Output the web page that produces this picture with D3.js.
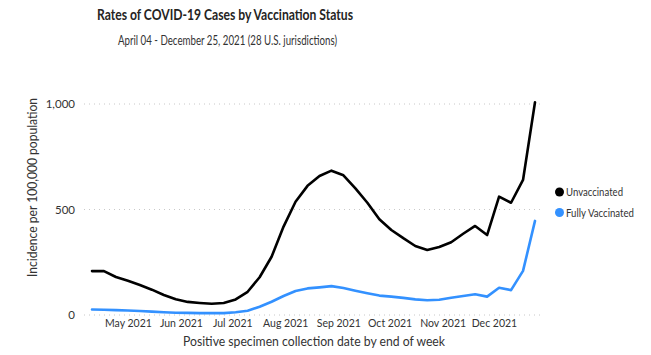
<!DOCTYPE html>
<html><head><meta charset="utf-8">
<script src="https://cdn.jsdelivr.net/npm/d3@7"></script>
<style>
body{margin:0;background:#fff;}
text{font-family:Lato,"Open Sans",sans-serif;}
</style></head>
<body><svg id="c" width="651" height="355"></svg>
<script>
const weekStart = "2021-04-10";
const unvaccinated = [208,208,180,162,142,120,95,75,62,57,53,57,74,110,179,276,419,537,612,659,684,662,600,532,454,403,364,327,308,322,345,385,422,379,561,532,640,1008];
const fullyVaccinated = [26,25,23,21,19,16,13,11,10,9,9,9,13,20,39,63,90,114,126,131,137,128,115,103,92,87,81,74,70,72,82,90,98,87,129,118,209,446];
const yTicks = [0,500,1000];
const xTickMonths = ["2021-05-01","2021-06-01","2021-07-01","2021-08-01","2021-09-01","2021-10-01","2021-11-01","2021-12-01"];
const seriesNames = ["Unvaccinated","Fully Vaccinated"];
const seriesColors = ["#000000","#3391ff"];

const parse = d3.utcParse("%Y-%m-%d");
const start = parse(weekStart);
const dates = unvaccinated.map((_, i) => d3.utcDay.offset(start, 7*i));
const svg = d3.select("#c");

const x = d3.scaleUtc().domain([dates[0], dates[dates.length-1]]).range([92, 535]);
const y = d3.scaleLinear().domain([0, 1000]).range([315, 104]);

function fit(sel, w){ sel.attr("textLength", w).attr("lengthAdjust", "spacingAndGlyphs"); return sel; }

// gridlines
svg.append("g").selectAll("line").data(yTicks).join("line")
  .attr("x1", 84).attr("x2", 541)
  .attr("y1", d => y(d)).attr("y2", d => y(d))
  .attr("stroke", "#c8c8c8").attr("stroke-width", 1)
  .attr("stroke-dasharray", "1,4");

// y axis
const yAxis = d3.axisLeft(y).tickValues(yTicks).tickFormat(d3.format(",")).tickSize(0).tickPadding(0);
const yg = svg.append("g").attr("transform", "translate(75,0)").call(yAxis);
yg.select(".domain").remove();
yg.selectAll("text").attr("font-size", 11.5).attr("fill", "#333").attr("font-family", "Lato,sans-serif");

// x axis
const xAxis = d3.axisBottom(x).tickValues(xTickMonths.map(parse)).tickFormat(d3.utcFormat("%b %Y")).tickSize(0).tickPadding(0);
const xg = svg.append("g").attr("transform", "translate(0,320)").call(xAxis);
xg.select(".domain").remove();
xg.selectAll("text").attr("font-size", 10.5).attr("fill", "#333").attr("font-family", "Lato,sans-serif");

// lines
const line = d3.line().x((d, i) => x(dates[i])).y(d => y(d));
[unvaccinated, fullyVaccinated].forEach((s, k) => {
  svg.append("path").datum(s).attr("d", line)
    .attr("fill", "none").attr("stroke", seriesColors[k])
    .attr("stroke-width", 2.6).attr("stroke-linejoin", "round").attr("stroke-linecap", "round");
});

// titles
fit(svg.append("text").attr("x", 97).attr("y", 20)
  .attr("font-size", 14.5).attr("font-weight", "bold").attr("fill", "#252423")
  .text("Rates of COVID-19 Cases by Vaccination Status"), 256);
fit(svg.append("text").attr("x", 118).attr("y", 45)
  .attr("font-size", 13).attr("fill", "#333")
  .text("April 04 - December 25, 2021 (28 U.S. jurisdictions)"), 219);
fit(svg.append("text").attr("transform", "translate(36.5,277) rotate(-90)")
  .attr("font-size", 12.5).attr("fill", "#333")
  .text("Incidence per 100,000 population"), 179);
fit(svg.append("text").attr("x", 183).attr("y", 346)
  .attr("font-size", 13).attr("fill", "#333")
  .text("Positive specimen collection date by end of week"), 262);

// legend
const lg = svg.append("g");
seriesNames.forEach((n, k) => {
  lg.append("circle").attr("cx", 559.5).attr("cy", 192 + 20.5*k).attr("r", 4.5).attr("fill", seriesColors[k]);
  fit(lg.append("text").attr("x", 566).attr("y", 196 + 20.5*k).attr("font-size", 10.5).attr("fill", "#333").text(n), [57, 68][k]);
});
</script></body></html>
